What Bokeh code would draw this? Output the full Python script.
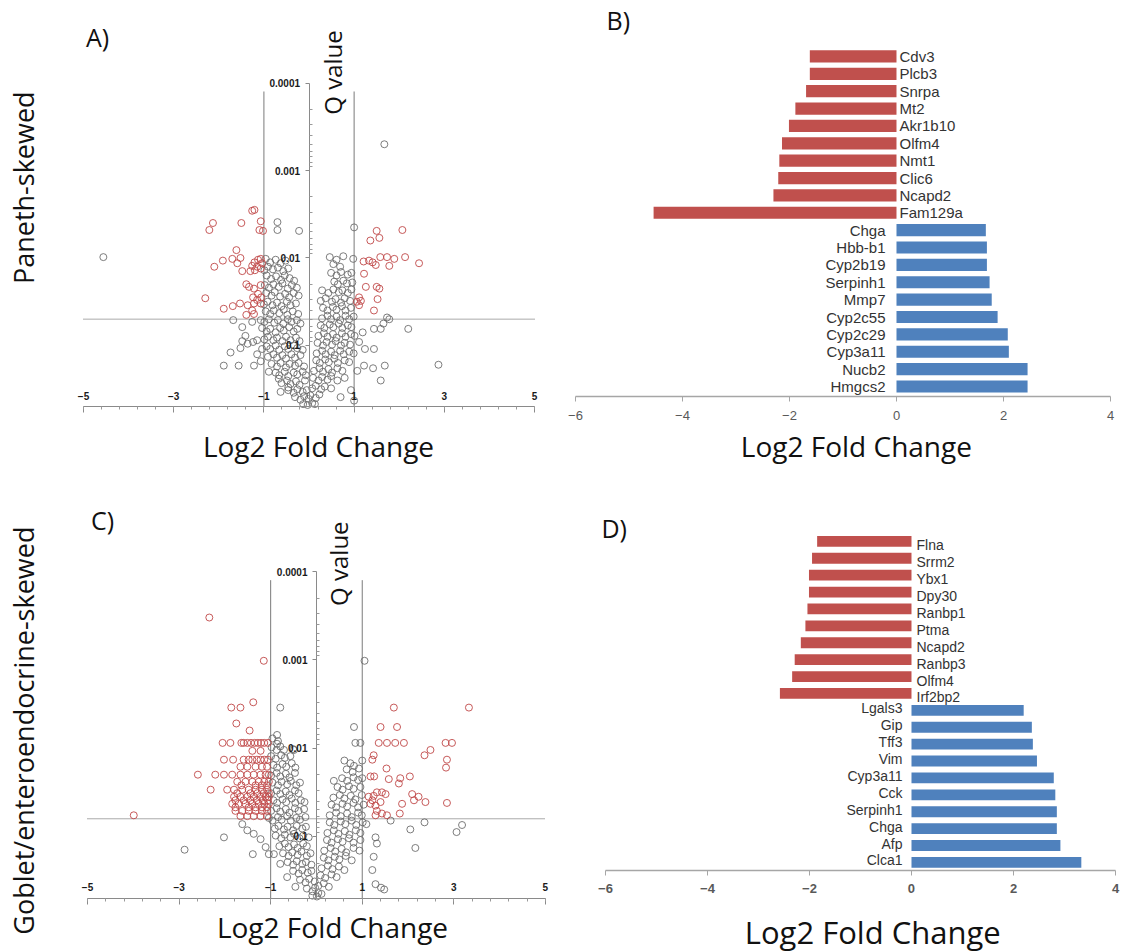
import math
from bokeh.plotting import figure
from bokeh.layouts import row, column
from bokeh.models import (Range1d, LinearAxis, LogAxis, FixedTicker,
                          CustomJSTickFormatter, ColumnDataSource)
from bokeh.core.properties import value
from bokeh.embed import file_html
from bokeh.resources import INLINE

BIG = "Open Sans"
ARIAL = "Liberation Sans"

# ---------------- data ----------------
# volcano points: (log2 fold change, -log10 Q value)
a_sig = [
    (-1.26, 2.54), (-1.21, 2.55), (-2.13, 2.40), (-2.21, 2.32), (-1.50, 2.40), (-1.07, 2.42), (-1.10, 2.32), (-1.02, 2.31),
    (-1.61, 2.09), (-1.52, 2.00), (-1.59, 1.94), (-1.70, 1.99), (-1.91, 1.97), (-2.10, 1.90),
    (-1.26, 1.91), (-1.21, 1.95), (-1.13, 1.98), (-1.07, 1.99), (-1.04, 1.94), (-1.15, 1.90), (-1.30, 1.85), (-1.20, 1.86),
    (-1.48, 1.85), (-1.07, 1.88), (-1.39, 1.70), (-1.33, 1.67), (-1.22, 1.65), (-1.07, 1.69), (-1.24, 1.55), (-1.15, 1.52),
    (-1.06, 1.55), (-1.22, 1.48), (-1.36, 1.46), (-1.07, 1.48), (-1.13, 1.59), (-2.30, 1.54), (-1.69, 1.45), (-1.53, 1.48),
    (-1.89, 1.42), (-1.26, 1.40), (-1.39, 1.35), (-1.22, 1.36),
    (1.50, 2.31), (1.56, 2.23), (1.36, 2.20), (2.07, 2.32), (1.21, 1.96), (1.33, 1.97), (1.41, 1.95), (1.48, 1.92),
    (1.58, 2.01), (1.73, 2.01), (1.89, 1.99), (2.13, 2.01), (1.78, 1.91), (2.44, 1.94), (1.22, 1.82), (1.26, 1.67),
    (1.50, 1.67), (1.56, 1.65), (1.52, 1.53), (1.11, 1.55), (1.15, 1.51), (1.11, 1.46), (1.44, 1.40), (1.06, 1.50),
]
a_ns = [
    (-4.56, 2.01), (1.67, 3.30), (1.00, 2.35), (-0.70, 2.41), (-0.70, 2.32), (-0.22, 2.31),
    (1.73, 1.32), (1.78, 1.30), (1.44, 1.19), (1.59, 1.19), (1.65, 1.25), (2.20, 1.19), (1.24, 0.96), (1.44, 0.96),
    (1.22, 0.77), (1.42, 0.74), (1.68, 0.77), (1.59, 0.60), (2.87, 0.78), (1.07, 0.71), (1.19, 1.15), (1.11, 1.04),
    (0.93, 0.49), (1.00, 0.37), (0.70, 0.41),
    (-1.68, 1.29), (-1.48, 1.21), (-1.41, 1.11), (-1.48, 1.05), (-1.52, 0.97), (-1.36, 1.02), (-1.24, 1.04), (-1.74, 0.92),
    (-1.89, 0.77), (-1.56, 0.77), (-1.22, 0.77), (-1.07, 0.82), (-1.15, 0.90), (-1.04, 0.96), (-1.15, 1.06), (-1.26, 1.27),
    (-1.07, 1.29), (-0.89, 0.70), (-0.63, 0.47), (-0.67, 0.62), (-0.46, 0.52),
    # left arm
    (-0.96, 1.99), (-0.86, 1.95), (-0.74, 1.98), (-0.63, 1.94), (-0.52, 1.97),
    (-0.99, 1.86), (-0.91, 1.90), (-0.80, 1.87), (-0.69, 1.89), (-0.57, 1.85), (-0.46, 1.88),
    (-0.94, 1.80), (-0.84, 1.76), (-0.73, 1.79), (-0.62, 1.75), (-0.54, 1.80), (-0.43, 1.77), (-0.33, 1.74),
    (-0.98, 1.69), (-0.89, 1.66), (-0.79, 1.70), (-0.67, 1.67), (-0.59, 1.71), (-0.47, 1.65), (-0.38, 1.69), (-0.27, 1.66),
    (-0.95, 1.60), (-0.83, 1.57), (-0.76, 1.61), (-0.64, 1.56), (-0.53, 1.59), (-0.44, 1.55), (-0.34, 1.60), (-0.23, 1.57),
    (-1.00, 1.47), (-0.92, 1.50), (-0.81, 1.46), (-0.71, 1.49), (-0.61, 1.45), (-0.49, 1.50), (-0.41, 1.46), (-0.29, 1.48),
    (-0.96, 1.39), (-0.86, 1.36), (-0.78, 1.40), (-0.66, 1.37), (-0.56, 1.41), (-0.48, 1.35), (-0.36, 1.39), (-0.24, 1.36),
    (-0.99, 1.27), (-0.89, 1.30), (-0.77, 1.26), (-0.69, 1.29), (-0.57, 1.25), (-0.47, 1.30), (-0.39, 1.27), (-0.27, 1.29), (-0.19, 1.25),
    (-1.04, 1.20), (-0.94, 1.16), (-0.86, 1.19), (-0.74, 1.15), (-0.64, 1.20), (-0.56, 1.17), (-0.44, 1.21), (-0.34, 1.16), (-0.26, 1.19),
    (-0.99, 1.07), (-0.91, 1.10), (-0.79, 1.06), (-0.71, 1.09), (-0.59, 1.05), (-0.51, 1.10), (-0.41, 1.06), (-0.29, 1.09), (-0.21, 1.05),
    (-0.94, 0.99), (-0.86, 0.96), (-0.74, 1.00), (-0.66, 0.95), (-0.54, 0.99), (-0.46, 0.96), (-0.34, 1.00), (-0.26, 0.97), (-0.14, 0.95),
    (-0.91, 0.87), (-0.79, 0.90), (-0.71, 0.86), (-0.59, 0.89), (-0.51, 0.85), (-0.39, 0.90), (-0.31, 0.86), (-0.19, 0.89),
    (-0.83, 0.79), (-0.71, 0.76), (-0.63, 0.80), (-0.51, 0.75), (-0.43, 0.79), (-0.31, 0.77), (-0.23, 0.80), (-0.11, 0.76),
    (-0.74, 0.69), (-0.66, 0.66), (-0.54, 0.70), (-0.46, 0.65), (-0.34, 0.69), (-0.26, 0.67), (-0.14, 0.70), (-0.07, 0.66),
    (-0.61, 0.57), (-0.49, 0.60), (-0.41, 0.56), (-0.29, 0.59), (-0.21, 0.55), (-0.09, 0.60),
    (-0.46, 0.49), (-0.34, 0.46), (-0.26, 0.50), (-0.14, 0.47), (-0.05, 0.49),
    (-0.31, 0.41), (-0.19, 0.38), (-0.11, 0.42), (-0.01, 0.39), (-0.13, 0.33), (-0.03, 0.32),
    # right arm
    (0.46, 2.01), (0.61, 1.98), (0.76, 2.02), (0.98, 1.99), (0.54, 1.93), (0.69, 1.90),
    (0.49, 1.83), (0.61, 1.80), (0.71, 1.84), (0.86, 1.81), (0.94, 1.83),
    (0.56, 1.73), (0.64, 1.70), (0.76, 1.74), (0.84, 1.71), (0.96, 1.72),
    (0.29, 1.63), (0.43, 1.60), (0.54, 1.64), (0.66, 1.61), (0.74, 1.63), (0.86, 1.60), (0.94, 1.64),
    (0.26, 1.51), (0.37, 1.54), (0.51, 1.50), (0.59, 1.53), (0.71, 1.49), (0.79, 1.54), (0.91, 1.51),
    (0.31, 1.43), (0.41, 1.40), (0.53, 1.44), (0.61, 1.41), (0.73, 1.45), (0.81, 1.40), (0.93, 1.43),
    (0.29, 1.31), (0.41, 1.34), (0.49, 1.30), (0.61, 1.33), (0.69, 1.29), (0.81, 1.34), (0.89, 1.30), (0.99, 1.33),
    (0.26, 1.23), (0.34, 1.20), (0.46, 1.24), (0.54, 1.21), (0.66, 1.25), (0.74, 1.20), (0.86, 1.23), (0.94, 1.21),
    (0.21, 1.11), (0.33, 1.14), (0.41, 1.10), (0.53, 1.13), (0.61, 1.09), (0.73, 1.14), (0.81, 1.10), (0.93, 1.13), (1.01, 1.11),
    (0.19, 1.03), (0.31, 1.00), (0.39, 1.04), (0.51, 1.01), (0.59, 1.05), (0.71, 1.00), (0.79, 1.03), (0.91, 1.01),
    (0.17, 0.91), (0.29, 0.94), (0.37, 0.90), (0.49, 0.93), (0.57, 0.89), (0.69, 0.94), (0.77, 0.90), (0.89, 0.93), (0.99, 0.91),
    (0.16, 0.83), (0.24, 0.80), (0.36, 0.84), (0.44, 0.81), (0.56, 0.85), (0.64, 0.80), (0.79, 0.83), (0.89, 0.81),
    (0.11, 0.71), (0.23, 0.74), (0.31, 0.70), (0.43, 0.73), (0.51, 0.69), (0.63, 0.74), (0.74, 0.71),
    (0.09, 0.63), (0.21, 0.60), (0.29, 0.64), (0.41, 0.61), (0.49, 0.65), (0.63, 0.60), (0.79, 0.63),
    (0.07, 0.51), (0.15, 0.54), (0.27, 0.50), (0.35, 0.53), (0.49, 0.51),
    (0.03, 0.43), (0.15, 0.40), (0.23, 0.44), (0.07, 0.34), (0.13, 0.33),
]

c_sig = [
    (-2.34, 3.48), (-1.15, 2.99), (-1.38, 2.52), (-1.86, 2.46), (-1.66, 2.46), (-1.75, 2.28), (-1.46, 2.20),
    (-2.05, 2.06), (-1.88, 2.06), (-1.64, 2.06), (-1.59, 2.06), (-1.51, 2.06), (-1.43, 2.06), (-1.35, 2.06), (-1.28, 2.06),
    (-1.21, 2.06), (-1.14, 2.06), (-1.06, 2.06), (-1.40, 1.97), (-1.22, 1.97),
    (-2.02, 1.87), (-1.82, 1.87), (-1.59, 1.87), (-1.48, 1.87), (-1.40, 1.87), (-1.30, 1.87), (-1.22, 1.87), (-1.14, 1.87), (-1.06, 1.87),
    (-1.66, 1.79), (-1.51, 1.79), (-1.33, 1.79), (-1.19, 1.79), (-1.08, 1.79),
    (-2.59, 1.70), (-2.21, 1.70), (-2.02, 1.70), (-1.84, 1.70), (-1.66, 1.70), (-1.51, 1.70), (-1.37, 1.70), (-1.22, 1.70), (-1.11, 1.70), (-1.04, 1.70),
    (-1.73, 1.62), (-1.55, 1.62), (-1.40, 1.62), (-1.26, 1.62), (-1.14, 1.62), (-1.04, 1.62),
    (-1.64, 1.58), (-1.33, 1.58), (-1.19, 1.58), (-1.08, 1.58),
    (-2.31, 1.53), (-1.95, 1.53), (-1.80, 1.53), (-1.62, 1.53), (-1.48, 1.53), (-1.33, 1.53), (-1.19, 1.53), (-1.08, 1.53),
    (-1.73, 1.49), (-1.44, 1.49), (-1.29, 1.49), (-1.15, 1.49), (-1.04, 1.49),
    (-1.80, 1.45), (-1.66, 1.45), (-1.51, 1.45), (-1.37, 1.45), (-1.22, 1.45), (-1.11, 1.45), (-1.04, 1.45),
    (-1.77, 1.41), (-1.59, 1.41), (-1.44, 1.41), (-1.30, 1.41), (-1.17, 1.41), (-1.06, 1.41),
    (-1.84, 1.37), (-1.70, 1.37), (-1.55, 1.37), (-1.40, 1.37), (-1.26, 1.37), (-1.14, 1.37), (-1.04, 1.37),
    (-1.77, 1.33), (-1.48, 1.33), (-1.33, 1.33), (-1.19, 1.33), (-1.08, 1.33),
    (-1.77, 1.29), (-1.62, 1.29), (-1.48, 1.29), (-1.33, 1.29), (-1.19, 1.29), (-1.08, 1.29),
    (-1.66, 1.23), (-1.51, 1.23), (-1.37, 1.23), (-1.22, 1.23), (-1.08, 1.23), (-3.99, 1.24),
    (1.69, 2.46), (3.33, 2.46), (1.40, 2.24), (1.76, 2.24), (1.36, 2.06), (1.54, 2.06), (1.72, 2.06), (1.91, 2.06),
    (2.82, 2.06), (2.96, 2.06), (2.49, 1.98), (2.36, 1.92), (2.85, 1.87), (2.83, 1.78), (1.25, 1.92), (1.22, 1.87),
    (1.53, 1.77), (1.18, 1.68), (1.26, 1.68), (1.58, 1.65), (1.83, 1.66), (1.80, 1.60), (2.04, 1.68),
    (1.14, 1.45), (1.25, 1.46), (1.22, 1.41), (1.32, 1.50), (1.43, 1.50), (1.51, 1.48), (1.40, 1.39), (1.29, 1.35), (1.18, 1.37),
    (2.09, 1.48), (2.13, 1.41), (2.23, 1.45), (2.38, 1.39), (1.87, 1.37), (1.82, 1.26), (2.85, 1.38),
    (1.32, 1.29), (1.43, 1.26), (1.54, 1.24), (1.29, 1.24),
]
c_ns = [
    (1.05, 2.99), (-0.79, 2.46), (-0.86, 2.15), (0.82, 2.24), (0.85, 2.06), (0.96, 2.06), (0.82, 1.80), (1.00, 1.86),
    (1.62, 1.18), (2.36, 1.16), (2.05, 1.08), (3.06, 1.05), (3.18, 1.13), (2.16, 0.87), (1.29, 0.99), (1.32, 0.92),
    (1.25, 0.77), (1.22, 0.62), (1.29, 0.46), (1.41, 0.42), (1.48, 0.40),
    (-2.02, 0.99), (-2.88, 0.85), (-1.39, 0.80), (-1.62, 1.14), (-1.51, 1.07), (-1.37, 1.03), (-1.22, 0.97),
    (-1.11, 0.88), (-1.04, 0.80), (-0.86, 2.05), (-0.49, 1.98), (-0.71, 1.98),
    # left arm
    (-0.96, 2.11), (-0.84, 2.08), (-0.98, 2.01), (-0.87, 1.98), (-0.79, 2.02), (-0.51, 1.99),
    (-0.99, 1.91), (-0.89, 1.88), (-0.77, 1.92), (-0.69, 1.89), (-0.57, 1.91),
    (-0.94, 1.81), (-0.86, 1.78), (-0.74, 1.82), (-0.66, 1.79), (-0.54, 1.83), (-0.46, 1.78),
    (-0.99, 1.69), (-0.87, 1.72), (-0.79, 1.68), (-0.67, 1.71), (-0.59, 1.67), (-0.47, 1.72),
    (-0.96, 1.61), (-0.84, 1.58), (-0.76, 1.62), (-0.64, 1.59), (-0.56, 1.63), (-0.44, 1.58), (-0.36, 1.61),
    (-0.99, 1.49), (-0.87, 1.52), (-0.79, 1.48), (-0.67, 1.51), (-0.59, 1.47), (-0.47, 1.52), (-0.39, 1.49),
    (-0.94, 1.41), (-0.86, 1.38), (-0.74, 1.42), (-0.66, 1.39), (-0.54, 1.43), (-0.46, 1.38), (-0.34, 1.41), (-0.26, 1.39),
    (-0.99, 1.29), (-0.87, 1.32), (-0.79, 1.28), (-0.67, 1.31), (-0.59, 1.27), (-0.47, 1.32), (-0.39, 1.29), (-0.27, 1.31),
    (-1.04, 1.21), (-0.96, 1.18), (-0.84, 1.22), (-0.76, 1.19), (-0.64, 1.23), (-0.56, 1.18), (-0.44, 1.21), (-0.36, 1.19), (-0.24, 1.22),
    (-0.91, 1.09), (-0.83, 1.12), (-0.71, 1.08), (-0.63, 1.11), (-0.51, 1.07), (-0.43, 1.12), (-0.31, 1.09), (-0.23, 1.11),
    (-0.89, 1.01), (-0.77, 0.98), (-0.69, 1.02), (-0.57, 0.99), (-0.49, 1.03), (-0.37, 0.98), (-0.29, 1.01), (-0.17, 0.99),
    (-0.81, 0.89), (-0.69, 0.92), (-0.61, 0.88), (-0.49, 0.91), (-0.41, 0.87), (-0.29, 0.92), (-0.21, 0.89),
    (-0.93, 0.80), (-0.73, 0.81), (-0.61, 0.78), (-0.53, 0.82), (-0.41, 0.79), (-0.33, 0.83), (-0.21, 0.78), (-0.13, 0.81),
    (-0.79, 0.69), (-0.63, 0.71), (-0.51, 0.68), (-0.43, 0.72), (-0.31, 0.69), (-0.23, 0.71), (-0.11, 0.68),
    (-0.64, 0.54), (-0.51, 0.61), (-0.39, 0.58), (-0.31, 0.62), (-0.19, 0.59), (-0.11, 0.61),
    (-0.46, 0.43), (-0.36, 0.51), (-0.24, 0.48), (-0.16, 0.52), (-0.04, 0.49),
    (-0.21, 0.41), (-0.09, 0.38), (-0.03, 0.42), (-0.09, 0.33), (0.01, 0.32),
    # right arm
    (0.61, 1.86), (0.74, 1.83), (0.66, 1.76), (0.79, 1.73), (0.93, 1.77),
    (0.38, 1.63), (0.56, 1.66), (0.67, 1.63), (0.81, 1.67), (0.91, 1.64), (1.00, 1.66),
    (0.46, 1.56), (0.57, 1.53), (0.71, 1.57), (0.81, 1.54), (0.96, 1.56),
    (0.37, 1.44), (0.51, 1.47), (0.61, 1.43), (0.75, 1.46), (0.85, 1.42), (0.99, 1.47),
    (0.33, 1.36), (0.43, 1.33), (0.57, 1.37), (0.67, 1.34), (0.81, 1.38), (0.91, 1.33), (1.03, 1.36),
    (0.29, 1.24), (0.43, 1.27), (0.53, 1.23), (0.67, 1.26), (0.77, 1.22), (0.91, 1.27), (0.99, 1.24),
    (0.29, 1.16), (0.39, 1.13), (0.53, 1.17), (0.63, 1.14), (0.77, 1.18), (0.87, 1.13), (1.01, 1.16), (1.09, 1.14),
    (0.24, 1.04), (0.38, 1.07), (0.48, 1.03), (0.62, 1.06), (0.72, 1.02), (0.86, 1.07), (0.96, 1.04),
    (0.23, 0.96), (0.33, 0.93), (0.47, 0.97), (0.57, 0.94), (0.71, 0.98), (0.81, 0.93), (0.96, 0.96),
    (0.17, 0.84), (0.31, 0.87), (0.41, 0.83), (0.55, 0.86), (0.65, 0.82), (0.81, 0.87), (0.94, 0.84),
    (0.16, 0.76), (0.26, 0.73), (0.40, 0.77), (0.50, 0.74), (0.64, 0.78), (0.77, 0.73),
    (0.11, 0.64), (0.25, 0.67), (0.35, 0.63), (0.49, 0.66), (0.61, 0.62),
    (0.09, 0.56), (0.19, 0.53), (0.33, 0.57), (0.44, 0.54),
    (0.04, 0.44), (0.16, 0.47), (0.27, 0.43), (0.04, 0.36), (0.11, 0.35),
]

q_threshold_a = 0.05
q_threshold_c = 0.063
fc_threshold = 1.0
q_ticks = [0.0001, 0.001, 0.01, 0.1]
fc_ticks = [-5, -3, -1, 1, 3, 5]

b_genes = ["Cdv3", "Plcb3", "Snrpa", "Mt2", "Akr1b10", "Olfm4", "Nmt1", "Clic6", "Ncapd2", "Fam129a",
           "Chga", "Hbb-b1", "Cyp2b19", "Serpinh1", "Mmp7", "Cyp2c55", "Cyp2c29", "Cyp3a11", "Nucb2", "Hmgcs2"]
b_values = [-1.62, -1.62, -1.69, -1.89, -2.01, -2.14, -2.19, -2.21, -2.30, -4.54,
            1.67, 1.69, 1.69, 1.74, 1.78, 1.89, 2.08, 2.10, 2.45, 2.45]

d_genes = ["Flna", "Srrm2", "Ybx1", "Dpy30", "Ranbp1", "Ptma", "Ncapd2", "Ranbp3", "Olfm4", "Irf2bp2",
           "Lgals3", "Gip", "Tff3", "Vim", "Cyp3a11", "Cck", "Serpinh1", "Chga", "Afp", "Clca1"]
d_values = [-1.85, -1.95, -2.01, -2.01, -2.04, -2.08, -2.17, -2.29, -2.34, -2.58,
            2.20, 2.36, 2.38, 2.46, 2.79, 2.82, 2.85, 2.85, 2.92, 3.33]
bar_ticks = [-6, -4, -2, 0, 2, 4]

RED = "#c0504d"
BLUE = "#4f81bd"
PT_RED = "#c04848"
PT_GRAY = "#666666"


def base_fig(width, height, xr, yr, ylog=False):
    p = figure(width=width, height=height, x_range=Range1d(*xr), y_range=Range1d(*yr),
               y_axis_type="log" if ylog else "linear", toolbar_location=None, output_backend="svg",
               x_axis_location=None, y_axis_location=None,
               min_border_left=0, min_border_right=0, min_border_top=0, min_border_bottom=0)
    p.outline_line_color = None
    for g in p.grid:
        g.grid_line_color = None
    p.background_fill_color = "white"
    p.border_fill_color = "white"
    return p


def side_label(text, width, height, xfrac, yfrac):
    p = base_fig(width, height, (0, 1), (0, 1))
    p.text(x=[xfrac], y=[yfrac], text=[text], angle=math.pi / 2, text_font=value(BIG),
           text_font_size="27px", text_align="center", text_baseline="middle", text_color="#111111")
    return p


def volcano(sig, ns, q_thr, width, height, xr, vr, panel, panel_xy, qlab_xy, xlab_xy):
    p = base_fig(width, height, xr, (10 ** (-vr[0]), 10 ** (-vr[1])), ylog=True)
    q_bottom = 0.5
    q_top_line = 1.25e-4
    minor_q = [m * 10.0 ** e for e in (-4, -3, -2, -1) for m in range(2, 10)
               if m * 10.0 ** e <= q_bottom]
    yax = LogAxis(fixed_location=0, bounds=(1e-4, q_bottom),
                  ticker=FixedTicker(ticks=q_ticks, minor_ticks=minor_q),
                  formatter=CustomJSTickFormatter(code="return tick.toPrecision(1);"))
    yax.axis_line_color = "#8a8a8a"
    yax.major_tick_line_color = "#8a8a8a"
    yax.minor_tick_line_color = "#9a9a9a"
    yax.major_tick_out = 4
    yax.major_tick_in = 0
    yax.minor_tick_out = 0
    yax.minor_tick_in = 3
    yax.major_label_text_font = ARIAL
    yax.major_label_text_font_style = "bold"
    yax.major_label_text_font_size = "10px"
    yax.major_label_text_color = "#1a1a1a"
    yax.major_label_standoff = 5
    p.add_layout(yax, "left")

    xax = LinearAxis(fixed_location=q_bottom, bounds=(-5, 5),
                     ticker=FixedTicker(ticks=fc_ticks, minor_ticks=[-5 + 0.4 * k for k in range(26)]))
    xax.axis_line_color = "#8a8a8a"
    xax.major_tick_line_color = "#8a8a8a"
    xax.minor_tick_line_color = "#9a9a9a"
    xax.major_tick_in = 6
    xax.major_tick_out = 0
    xax.minor_tick_in = 3
    xax.minor_tick_out = 0
    xax.major_label_text_font = ARIAL
    xax.major_label_text_font_style = "bold"
    xax.major_label_text_font_size = "10px"
    xax.major_label_text_color = "#1a1a1a"
    xax.major_label_standoff = 7
    p.add_layout(xax, "above")

    p.segment(x0=[-fc_threshold, fc_threshold], y0=[q_top_line, q_top_line],
              x1=[-fc_threshold, fc_threshold], y1=[q_bottom, q_bottom],
              line_color="#7a7a7a", line_width=1)
    p.segment(x0=[-5], y0=[q_thr], x1=[5], y1=[q_thr], line_color="#555555",
              line_width=1, line_dash="1 1")

    nsx = [pt[0] for pt in ns]
    nsq = [10 ** (-pt[1]) for pt in ns]
    sx = [pt[0] for pt in sig]
    sq = [10 ** (-pt[1]) for pt in sig]
    p.scatter(nsx, nsq, marker="circle", size=7, fill_color=None, line_color=PT_GRAY,
              line_alpha=0.85, line_width=1)
    p.scatter(sx, sq, marker="circle", size=7, fill_color=None, line_color=PT_RED,
              line_alpha=0.9, line_width=1)

    p.text(x=[panel_xy[0]], y=[10 ** (-panel_xy[1])], text=[panel], text_font=value(BIG),
           text_font_size="25px", text_align="center", text_baseline="middle", text_color="#111111")
    p.text(x=[qlab_xy[0]], y=[10 ** (-qlab_xy[1])], text=["Q value"], angle=math.pi / 2,
           text_font=value(BIG), text_font_size="24px", text_align="center",
           text_baseline="middle", text_color="#111111")
    p.text(x=[xlab_xy[0]], y=[10 ** (-xlab_xy[1])], text=["Log2 Fold Change"],
           text_font=value(BIG), text_font_size="28px", text_align="center",
           text_baseline="middle", text_color="#111111")
    return p


def bars(genes, vals, width, height, xr, yr, axis_y, bar_h, lab_size, pos_off, neg_off,
         neg_yoff, pos_yoff, tick_bold, panel, panel_xy, xlab_xy, xlab_size):
    p = base_fig(width, height, xr, yr)
    n = len(genes)
    ys = [n - 1 - i for i in range(n)]
    cols = [RED if v < 0 else BLUE for v in vals]
    src = ColumnDataSource(dict(y=ys, v=vals, c=cols, g=genes))
    p.hbar(y="y", height=bar_h, left=0, right="v", fill_color="c", line_color=None, source=src)

    neg = ColumnDataSource(dict(y=[y for y, v in zip(ys, vals) if v < 0],
                                g=[g for g, v in zip(genes, vals) if v < 0]))
    pos = ColumnDataSource(dict(y=[y for y, v in zip(ys, vals) if v >= 0],
                                g=[g for g, v in zip(genes, vals) if v >= 0]))
    p.text(x=0, y="y", text="g", source=neg, x_offset=neg_off, y_offset=neg_yoff,
           text_font=value(ARIAL), text_font_size=lab_size, text_align="left",
           text_baseline="middle", text_color="#333333")
    p.text(x=0, y="y", text="g", source=pos, x_offset=pos_off, y_offset=pos_yoff,
           text_font=value(ARIAL), text_font_size=lab_size, text_align="right",
           text_baseline="middle", text_color="#333333")

    ax = LinearAxis(fixed_location=axis_y, bounds=(-6, 4), ticker=FixedTicker(ticks=bar_ticks))
    ax.axis_line_color = "#a6a6a6"
    ax.axis_line_width = 1.3
    ax.major_tick_line_color = "#a6a6a6"
    ax.major_tick_out = 5
    ax.major_tick_in = 0
    ax.minor_tick_line_color = None
    ax.major_label_text_font = ARIAL
    ax.major_label_text_font_size = "13px"
    ax.major_label_text_font_style = "bold" if tick_bold else "normal"
    ax.major_label_text_color = "#595959"
    ax.major_label_standoff = 9
    p.add_layout(ax, "below")

    p.text(x=[xlab_xy[0]], y=[xlab_xy[1]], text=["Log2 Fold Change"],
           text_font=value(BIG), text_font_size=xlab_size, text_align="center",
           text_baseline="middle", text_color="#111111")
    p.text(x=[panel_xy[0]], y=[panel_xy[1]], text=[panel], text_font=value(BIG),
           text_font_size="25px", text_align="center", text_baseline="middle", text_color="#111111")
    return p


sideA = side_label("Paneth-skewed", 60, 480, 0.38, 0.61)
sideC = side_label("Goblet/enteroendocrine-skewed", 60, 472, 0.38, 0.47)

pA = volcano(a_sig, a_ns, q_threshold_a, 500, 480, (-5.51, 5.576), (-0.543, 4.943),
             "A)", (-4.69, 4.53), (0.52, 4.12), (0.21, -0.154))
pC = volcano(c_sig, c_ns, q_threshold_c, 500, 472, (-5.59, 5.33), (-0.314, 5.032),
             "C)", (-4.67, 4.58), (0.48, 4.09), (0.35, -0.03))

pB = bars(b_genes, b_values, 563, 480, (-6.28, 4.243), (-5.41, 22.22), -0.576, 0.7, "15px",
          -11, 3, 0, 0, False, "B)", (-5.2, 21.07), (-0.75, -3.45), "28px")
pD = bars(d_genes, d_values, 563, 472, (-6.882, 4.157), (-5.33, 22.6), -0.473, 0.64, "14px",
          -9, 5, 4, -2, True, "D)", (-5.83, 19.76), (-0.76, -4.14), "31px")

layout = column(row(sideA, pA, pB), row(sideC, pC, pD))
open("out.html", "w").write(file_html(layout, INLINE))
